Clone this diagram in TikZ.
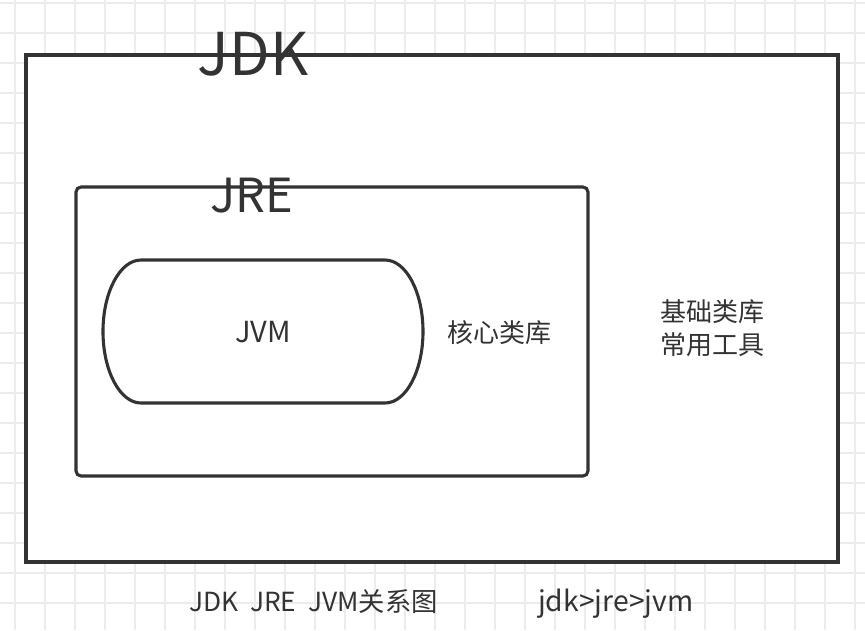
\documentclass[tikz,border=0pt]{standalone}
\usepackage{fontspec}
\setmainfont{Noto Sans CJK SC}
\usetikzlibrary{positioning}
\definecolor{ink}{RGB}{51,51,51}
\definecolor{gridc}{RGB}{236,236,236}

\begin{document}
\begin{tikzpicture}[x=1pt,y=1pt,
 gridline/.style={draw=gridc,line width=1.2pt},
 frame/.style={draw=ink,line width=3.2pt,fill=white},
 inner/.style={draw=ink,line width=3.1pt,rounded corners=5pt},
 big/.style={text=ink,inner sep=0pt,anchor=base},
 lbl/.style={text=ink,inner sep=0pt,font=\fontsize{26}{33}\selectfont,align=center}]
\useasboundingbox (0,0) rectangle (865,-630);
\fill[white] (0,0) rectangle (865,-630);
\foreach \gx in {15,45,...,855}{\draw[gridline] (\gx,0)--(\gx,-630);}
\foreach \gy in {3,33,...,603}{\draw[gridline] (0,-\gy)--(865,-\gy);}
% boxes
\node[frame,minimum width=812,minimum height=507,inner sep=0pt] (jdk) at (432,-308.5) {};
\node[inner,minimum width=512,minimum height=289,inner sep=0pt] (jre) at (332,-331.5) {};
\coordinate (jvmtl) at (141,-260);
\draw[draw=ink,line width=3.1pt] (jvmtl)--++(244,0)
 arc[start angle=90,end angle=-90,x radius=38,y radius=71.5]--++(-244,0)
 arc[start angle=270,end angle=90,x radius=38,y radius=71.5]--cycle;
\node[lbl,font=\fontsize{29}{33}\selectfont] (jvm) at (263,-332) {JVM};
% titles sit on the top edges
\node[big,font=\fontsize{59}{66}\selectfont] (jdkt) at (253,-75) {JDK};
\node[big,font=\fontsize{47}{54}\selectfont] (jret) at (252,-212) {JRE};
\node[lbl] (core) at (499,-333) {核心类库};
\node[lbl] (tools) at (712,-328) {基础类库\\常用工具};
% caption
\node[lbl,anchor=base west,font=\fontsize{26.3}{33}\selectfont] (cap1) at (189,-611) {JDK\ \ JRE\ \ JVM关系图};
\node[lbl,anchor=base west,font=\fontsize{28.3}{33}\selectfont] (cap2) at (538,-611) {jdk>jre>jvm};
\end{tikzpicture}
\end{document}
